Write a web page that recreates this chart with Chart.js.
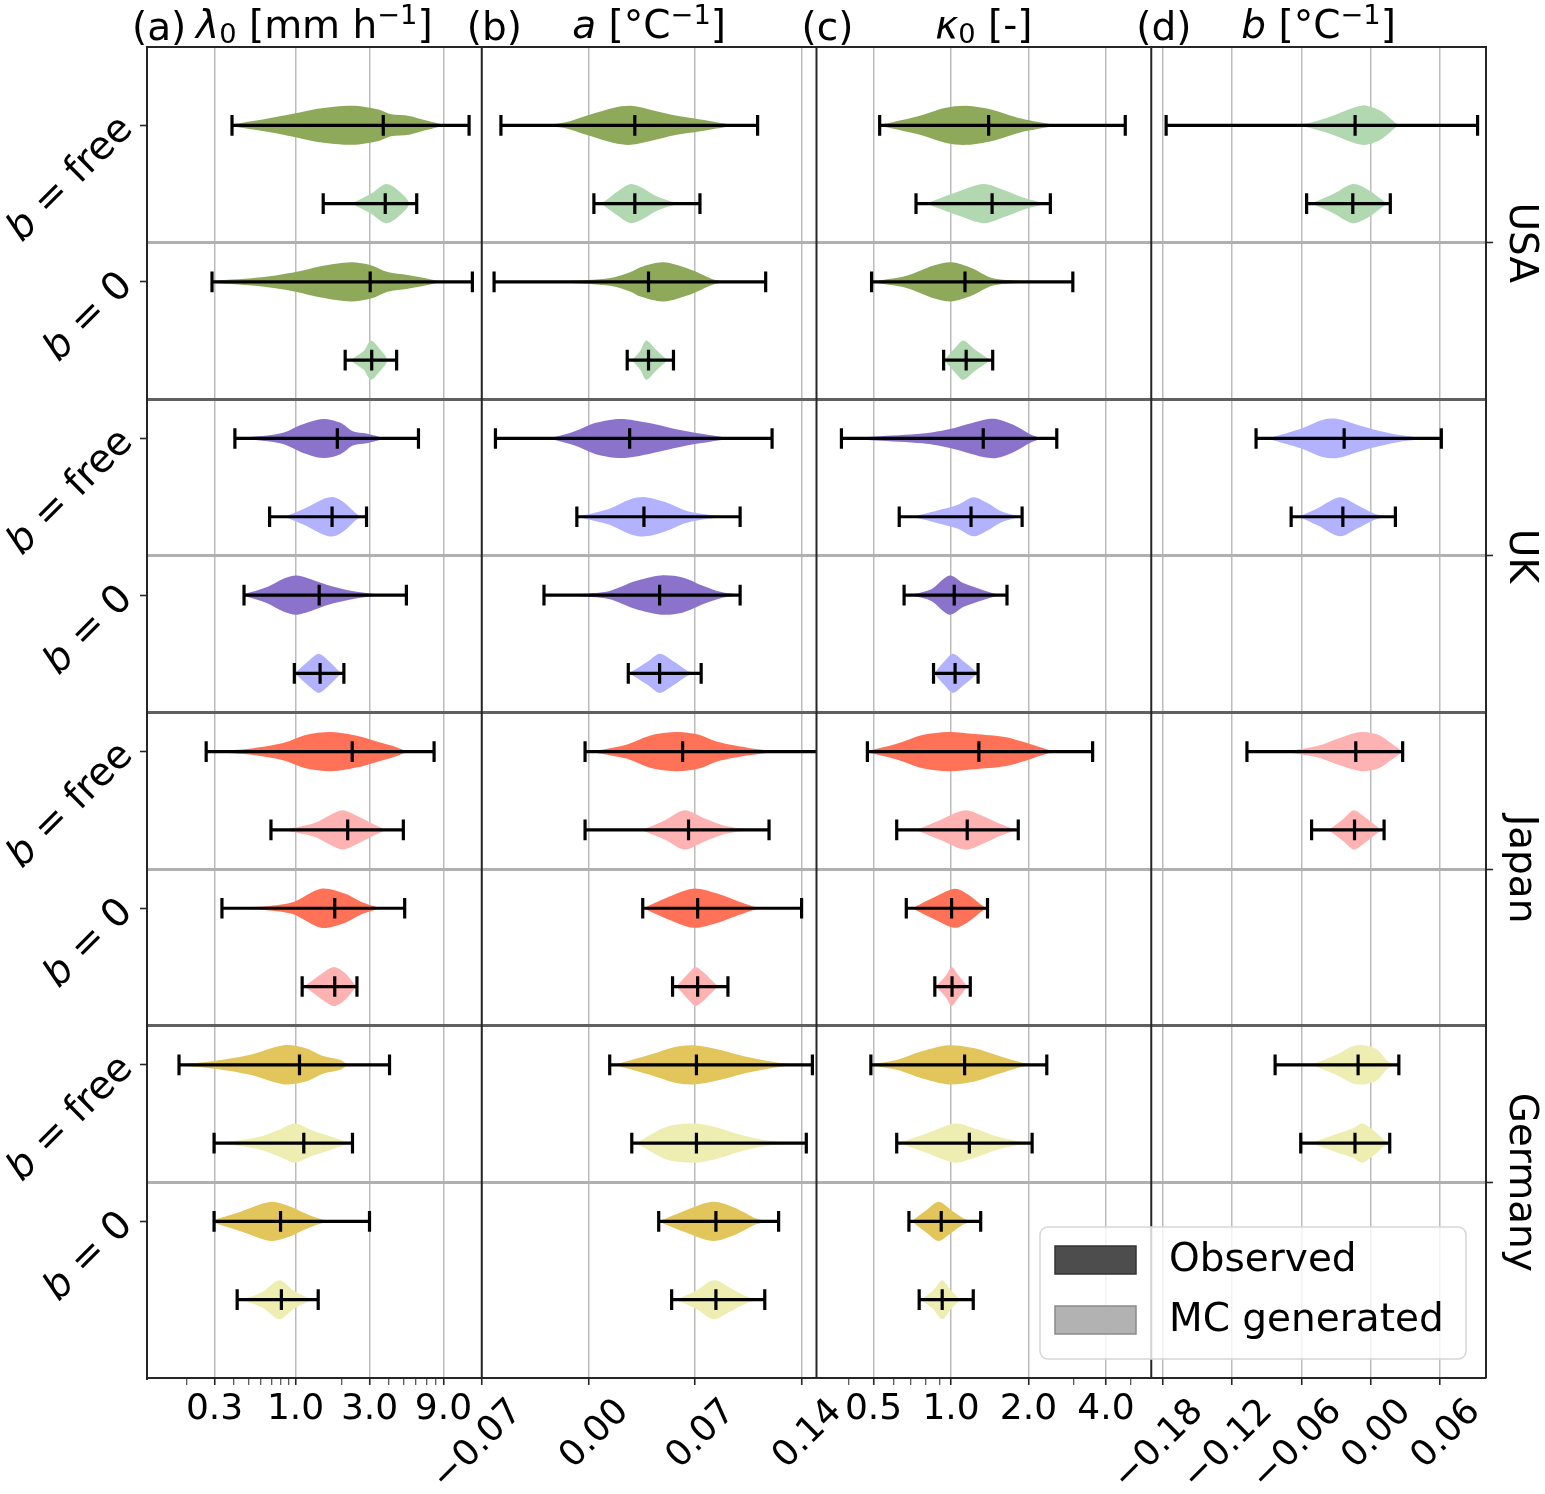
<!DOCTYPE html>
<html>
<head>
<meta charset="utf-8">
<script src="https://cdn.jsdelivr.net/npm/chart.js@4.4.1/dist/chart.umd.min.js"></script>
<style>
  html, body { margin: 0; padding: 0; background: #fff; }
  #wrap { width: 1545px; height: 1494px; }
</style>
</head>
<body>
<div id="wrap"><canvas id="c" width="1545" height="1494"></canvas></div>
<script>
// rows, top to bottom: country x (b = free, b = 0) x (observed, MC generated)
const countries = ['USA', 'UK', 'Japan', 'Germany'];
const modelLabels = ['b = free', 'b = 0'];
const legendLabels = ['Observed', 'MC generated'];

const obsColors = ['#8fa95a', '#8b73cc', '#ff7257', '#e2c55b'];
const mcColors = ['#b2d8b2', '#b2b2ff', '#ffb2b2', '#eeeeb2'];

// (a) lambda0 [mm/h], log axis
const lambdaTicks = [0.3, 1, 3, 9];
const lambdaTickLabels = ['0.3', '1.0', '3.0', '9.0'];
const lambdaMinorTicks = [0.2, 0.4, 0.5, 0.6, 0.7, 0.8, 0.9, 2, 4, 5, 6, 7, 8];
const lambdaMin = [0.389, 1.508, 0.289, 2.09, 0.406, 0.680, 0.465, 0.982, 0.265, 0.694, 0.335, 1.103, 0.177, 0.298, 0.298, 0.420];
const lambdaMed = [3.68, 3.79, 3.03, 3.10, 1.86, 1.72, 1.42, 1.44, 2.32, 2.17, 1.79, 1.79, 1.06, 1.13, 0.80, 0.81];
const lambdaMax = [13.17, 6.05, 13.83, 4.49, 6.21, 2.87, 5.19, 2.05, 7.83, 4.96, 5.06, 2.49, 4.04, 2.33, 3.00, 1.40];
// violin outlines: [value, relative half width]
const lambdaViolin = [
  [[0.389,0.05],[0.627,0.31],[1.0,0.61],[1.387,0.85],[2.334,1.0],[3.386,0.82],[4.127,0.56],[5.418,0.48],[6.771,0.27],[8.268,0.1],[9.12,0]],
  [[2.3,0],[3.064,0.5],[3.831,1.0],[4.56,0.7],[5.4,0]],
  [[0.289,0.05],[0.627,0.25],[1.0,0.5],[1.457,0.8],[2.276,1.0],[3.064,0.85],[3.929,0.5],[5.29,0.35],[6.771,0.2],[8.268,0.05],[9.5,0]],
  [[2.25,0],[2.774,0.5],[3.064,1.0],[3.467,0.6],[3.9,0]],
  [[0.406,0.02],[0.609,0.12],[0.841,0.3],[1.089,0.7],[1.503,1.0],[1.947,0.8],[2.362,0.35],[2.867,0.25],[3.594,0]],
  [[0.85,0],[1.162,0.45],[1.503,0.9],[1.768,1.0],[2.076,0.7],[2.519,0.1],[2.8,0]],
  [[0.465,0.05],[0.651,0.4],[0.841,0.85],[1.021,1.0],[1.323,0.75],[1.711,0.45],[2.362,0.2],[3.263,0.05],[3.708,0]],
  [[1.0,0.05],[1.239,0.7],[1.41,1.0],[1.605,0.7],[1.947,0.05],[2.0,0]],
  [[0.265,0.02],[0.502,0.15],[0.841,0.45],[1.162,0.85],[1.711,1.0],[2.519,0.8],[3.263,0.55],[4.221,0.3],[5.12,0.05],[5.6,0]],
  [[0.897,0.05],[1.323,0.35],[1.711,0.8],[2.009,1.0],[2.519,0.7],[3.263,0.25],[3.708,0.05],[3.9,0]],
  [[0.414,0.03],[0.651,0.1],[0.958,0.3],[1.457,1.0],[2.076,0.75],[2.689,0.3],[3.366,0.05],[3.6,0]],
  [[1.14,0],[1.503,0.7],[1.768,1.0],[2.076,0.7],[2.441,0.05],[2.5,0]],
  [[0.177,0.02],[0.2997,0.2],[0.502,0.5],[0.841,1.0],[1.162,0.85],[1.503,0.45],[1.947,0.25],[2.145,0.05],[2.3,0]],
  [[0.341,0.03],[0.572,0.3],[0.789,0.7],[0.99,1.0],[1.28,0.65],[1.605,0.4],[2.076,0.1],[2.3,0]],
  [[0.304,0.1],[0.441,0.5],[0.694,1.0],[0.897,0.8],[1.162,0.4],[1.503,0.08],[1.824,0]],
  [[0.471,0.05],[0.609,0.4],[0.789,1.0],[0.958,0.5],[1.201,0.1],[1.323,0]]
];

// (b) a [1/degC]
const aTicks = [-0.07, 0, 0.07, 0.14];
const aTickLabels = ['\u22120.07', '0.00', '0.07', '0.14'];
const aMin = [-0.0574, 0.0037, -0.0619, 0.0256, -0.0610, -0.0075, -0.0291, 0.0263, -0.0021, -0.0021, 0.0358, 0.0554, 0.0141, 0.0286, 0.0463, 0.0548];
const aMed = [0.0306, 0.0306, 0.0396, 0.0396, 0.0272, 0.0366, 0.0469, 0.0469, 0.0620, 0.0659, 0.0719, 0.0719, 0.0711, 0.0711, 0.0839, 0.0839];
const aMax = [0.1113, 0.0734, 0.1166, 0.0560, 0.1208, 0.0998, 0.0998, 0.0742, 0.1600, 0.1188, 0.1402, 0.0918, 0.1473, 0.1433, 0.1251, 0.1160];
const aViolin = [
  [[-0.035,0],[-0.0269,0.03],[-0.0149,0.15],[-0.0007,0.5],[0.0168,0.9],[0.0278,1.0],[0.0409,0.8],[0.0573,0.5],[0.0737,0.3],[0.0947,0.03],[0.1,0]],
  [[0.005,0],[0.0102,0.1],[0.019,0.6],[0.0278,1.0],[0.0356,0.8],[0.0442,0.4],[0.0573,0.05],[0.062,0]],
  [[-0.025,0],[-0.016,0.03],[0.0146,0.2],[0.0278,0.5],[0.0343,0.75],[0.0495,1.0],[0.0684,0.6],[0.0836,0.1],[0.095,0.02],[0.1,0]],
  [[0.027,0],[0.0299,0.1],[0.0343,0.5],[0.0381,1.0],[0.0438,0.6],[0.0514,0.05],[0.054,0]],
  [[-0.035,0],[-0.0234,0.05],[-0.0093,0.35],[0.005,0.8],[0.0215,1.0],[0.0392,0.8],[0.0562,0.5],[0.0733,0.25],[0.0904,0.05],[0.0989,0]],
  [[-0.0064,0.02],[0.0135,0.4],[0.0278,0.9],[0.0377,1.0],[0.0505,0.75],[0.0648,0.3],[0.0818,0.08],[0.0989,0]],
  [[-0.0093,0.03],[0.0135,0.2],[0.0306,0.7],[0.0477,1.0],[0.0619,0.9],[0.0761,0.45],[0.0875,0.15],[0.0989,0]],
  [[0.0278,0.05],[0.0392,0.6],[0.0469,1.0],[0.0562,0.6],[0.0648,0.15],[0.0704,0]],
  [[-0.002,0],[0.005,0.05],[0.0249,0.35],[0.042,0.85],[0.0591,1.0],[0.0733,0.85],[0.0847,0.5],[0.1046,0.2],[0.1217,0.03],[0.13,0]],
  [[0.03,0],[0.0363,0.05],[0.0505,0.5],[0.0633,1.0],[0.0761,0.6],[0.0904,0.2],[0.1046,0.03],[0.11,0]],
  [[0.0377,0.05],[0.0534,0.6],[0.069,1.0],[0.0847,0.75],[0.0989,0.35],[0.1103,0.05],[0.115,0]],
  [[0.0591,0.1],[0.0662,0.7],[0.0705,1.0],[0.0761,0.7],[0.0847,0.05],[0.087,0]],
  [[0.0192,0.05],[0.042,0.55],[0.0562,0.9],[0.069,1.0],[0.0847,0.8],[0.1046,0.4],[0.1274,0.08],[0.1387,0]],
  [[0.0335,0.1],[0.052,0.85],[0.0705,1.0],[0.0847,0.8],[0.0989,0.45],[0.116,0.15],[0.1331,0.02],[0.138,0]],
  [[0.0477,0.05],[0.0619,0.5],[0.0818,1.0],[0.0961,0.7],[0.1103,0.15],[0.1188,0]],
  [[0.0591,0.05],[0.0705,0.45],[0.0824,1.0],[0.0933,0.6],[0.1046,0.15],[0.1131,0]]
];

// (c) kappa0 [-], log axis
const kappaTicks = [0.5, 1, 2, 4];
const kappaTickLabels = ['0.5', '1.0', '2.0', '4.0'];
const kappaMinorTicks = [0.4, 0.6, 0.7, 0.8, 0.9, 3, 5];
const kappaMin = [0.528, 0.731, 0.491, 0.936, 0.375, 0.629, 0.657, 0.855, 0.473, 0.615, 0.670, 0.865, 0.488, 0.615, 0.686, 0.752];
const kappaMed = [1.400, 1.444, 1.133, 1.145, 1.334, 1.196, 1.029, 1.037, 1.283, 1.156, 1.005, 1.009, 1.129, 1.178, 0.916, 0.924];
const kappaMax = [4.755, 2.432, 2.974, 1.452, 2.576, 1.889, 1.650, 1.274, 3.551, 1.825, 1.386, 1.188, 2.356, 2.066, 1.304, 1.220];
const kappaViolin = [
  [[0.528,0.02],[0.739,0.45],[0.956,0.9],[1.145,1.0],[1.444,0.8],[1.869,0.35],[2.548,0.03],[2.8,0]],
  [[0.78,0],[0.819,0.05],[1.06,0.6],[1.337,1.0],[1.602,0.7],[1.919,0.3],[2.297,0.03],[2.4,0]],
  [[0.491,0.02],[0.666,0.3],[0.862,0.85],[1.006,1.0],[1.206,0.7],[1.444,0.2],[1.869,0.05],[2.297,0]],
  [[0.945,0],[0.956,0.1],[1.049,0.7],[1.116,1.0],[1.224,0.6],[1.407,0.05],[1.44,0]],
  [[0.375,0.02],[0.507,0.1],[0.775,0.25],[1.0,0.5],[1.334,0.95],[1.498,1.0],[1.748,0.7],[2.042,0.2],[2.205,0]],
  [[0.69,0],[0.718,0.03],[0.872,0.3],[1.057,0.6],[1.224,1.0],[1.386,0.7],[1.557,0.3],[1.818,0.03],[1.85,0]],
  [[0.69,0],[0.718,0.05],[0.838,0.3],[0.986,1.0],[1.121,0.6],[1.334,0.25],[1.498,0.05],[1.56,0]],
  [[0.865,0],[0.872,0.1],[0.941,0.6],[1.017,1.0],[1.121,0.6],[1.259,0.05],[1.27,0]],
  [[0.473,0.03],[0.615,0.4],[0.775,0.85],[0.979,1.0],[1.234,0.9],[1.618,0.75],[1.963,0.45],[2.383,0.1],[2.676,0]],
  [[0.72,0],[0.746,0.05],[0.906,0.5],[1.133,1.0],[1.334,0.7],[1.557,0.3],[1.748,0.05],[1.8,0]],
  [[0.7,0],[0.718,0.05],[0.872,0.6],[1.037,1.0],[1.165,0.7],[1.334,0.1],[1.386,0]],
  [[0.88,0],[0.888,0.1],[0.96,0.6],[1.005,1.0],[1.065,0.6],[1.142,0.1],[1.16,0]],
  [[0.488,0.03],[0.615,0.25],[0.775,0.7],[0.979,1.0],[1.234,0.85],[1.498,0.5],[1.889,0.1],[2.042,0]],
  [[0.639,0.05],[0.807,0.5],[1.037,1.0],[1.234,0.75],[1.498,0.35],[1.818,0.1],[2.042,0]],
  [[0.71,0],[0.718,0.1],[0.807,0.6],[0.895,1.0],[0.997,0.6],[1.12,0.15],[1.188,0]],
  [[0.765,0],[0.775,0.05],[0.855,0.5],[0.924,1.0],[0.997,0.5],[1.078,0.05],[1.1,0]]
];

// (d) b [1/degC], only for b = free
const bTicks = [-0.18, -0.12, -0.06, 0, 0.06];
const bTickLabels = ['\u22120.18', '\u22120.12', '\u22120.06', '0.00', '0.06'];
const bMin = [-0.1771, -0.0554, null, null, -0.0992, -0.0688, null, null, -0.1071, -0.0511, null, null, -0.0827, -0.0605, null, null];
const bMed = [-0.0134, -0.0154, null, null, -0.0229, -0.0240, null, null, -0.0128, -0.0139, null, null, -0.0108, -0.0135, null, null];
const bMax = [0.0927, 0.0171, null, null, 0.0613, 0.0215, null, null, 0.0278, 0.0117, null, null, 0.0245, 0.0166, null, null];
const bViolin = [
  [[-0.08,0],[-0.0669,0.03],[-0.055,0.1],[-0.0369,0.4],[-0.0079,1.0],[0.0082,0.75],[0.0231,0.05],[0.026,0]],
  [[-0.052,0],[-0.0494,0.05],[-0.0319,0.5],[-0.0154,1.0],[-0.0019,0.7],[0.0132,0.05],[0.015,0]],
  null, null,
  [[-0.095,0],[-0.0868,0.05],[-0.0605,0.5],[-0.0417,0.95],[-0.0285,1.0],[-0.0116,0.7],[0.0035,0.45],[0.0222,0.2],[0.041,0.05],[0.0486,0]],
  [[-0.064,0],[-0.0605,0.05],[-0.0455,0.45],[-0.0267,1.0],[-0.0116,0.6],[0.0035,0.15],[0.0147,0]],
  null, null,
  [[-0.08,0],[-0.0718,0.03],[-0.0455,0.3],[-0.0267,0.7],[-0.0079,1.0],[0.0072,0.85],[0.0185,0.4],[0.0267,0.05],[0.028,0]],
  [[-0.04,0],[-0.0342,0.1],[-0.0229,0.6],[-0.0146,1.0],[-0.006,0.7],[0.0072,0.1],[0.01,0]],
  null, null,
  [[-0.055,0],[-0.0493,0.05],[-0.0304,0.5],[-0.0154,0.95],[-0.006,1.0],[0.0053,0.8],[0.0147,0.2],[0.0204,0]],
  [[-0.055,0],[-0.0493,0.05],[-0.0304,0.45],[-0.0154,0.75],[-0.0071,1.0],[0.0035,0.6],[0.0128,0.1],[0.0166,0]],
  null, null
];

const FONT = "'DejaVu Sans', sans-serif";
const HALF = 0.25;  // widest violin half width, in rows
const CAP = 0.132;  // error bar cap half height, in rows

const panels = [
  {axis: 'xa', lo: lambdaMin, mid: lambdaMed, hi: lambdaMax, shapes: lambdaViolin,
   title: [['(a)', '']], label: [['\u03bb', 'i'], ['0', 'sub'], [' [mm h', ''], ['\u22121', 'sup'], [']', '']]},
  {axis: 'xb', lo: aMin, mid: aMed, hi: aMax, shapes: aViolin,
   title: [['(b)', '']], label: [['a', 'i'], [' [\u00b0C', ''], ['\u22121', 'sup'], [']', '']]},
  {axis: 'xc', lo: kappaMin, mid: kappaMed, hi: kappaMax, shapes: kappaViolin,
   title: [['(c)', '']], label: [['\u03ba', 'i'], ['0', 'sub'], [' [-]', '']]},
  {axis: 'xd', lo: bMin, mid: bMed, hi: bMax, shapes: bViolin,
   title: [['(d)', '']], label: [['b', 'i'], [' [\u00b0C', ''], ['\u22121', 'sup'], [']', '']]}
];

const datasets = [];
const GAP = {x: NaN, y: NaN};
panels.forEach((p, pi) => {
  p.shapes.forEach((knots, i) => {
    if (!knots) return;
    const row = i + 1;
    const country = Math.floor(i / 4);
    const observed = i % 2 === 0;
    const colour = observed && pi !== 3 ? obsColors[country] : mcColors[country];
    const upper = knots.map(k => ({x: k[0], y: row - HALF * k[1]}));
    const lower = knots.slice().reverse().map(k => ({x: k[0], y: row + HALF * k[1]}));
    if (knots[knots.length - 1][1] === 0) lower.shift();
    if (knots[0][1] === 0) lower.pop();
    datasets.push({
      data: upper.concat(lower), xAxisID: p.axis, yAxisID: 'y',
      fill: 'shape', backgroundColor: colour, borderColor: 'rgba(0,0,0,0)', borderWidth: 0,
      pointRadius: 0, tension: 0.3, order: 1
    });
    const lo = p.lo[i], md = p.mid[i], hi = p.hi[i];
    datasets.push({
      data: [
        {x: lo, y: row}, {x: hi, y: row}, GAP,
        {x: lo, y: row - CAP}, {x: lo, y: row + CAP}, GAP,
        {x: hi, y: row - CAP}, {x: hi, y: row + CAP}, GAP,
        {x: md, y: row - CAP}, {x: md, y: row + CAP}
      ],
      xAxisID: p.axis, yAxisID: 'y', borderColor: '#000', borderWidth: 3.2,
      borderCapStyle: 'butt', pointRadius: 0, fill: false, tension: 0, spanGaps: false, order: 0
    });
  });
});

function xAxis(type, min, max, major, labels, minor, rot) {
  const all = major.concat(minor);
  return {
    type, min, max, axis: 'x', position: 'bottom', stack: 'cols', stackWeight: 1,
    afterBuildTicks: s => { s.ticks = all.map(v => ({value: v})); },
    afterFit: s => { s.height = 116; },
    ticks: {
      autoSkip: false, minRotation: rot, maxRotation: rot,
      labelOffset: rot ? 35 : 0, padding: rot ? 6 : 3,
      color: '#000', font: {family: FONT, size: 36},
      callback: v => { const k = major.indexOf(v); return k >= 0 ? labels[k] : ''; }
    },
    grid: {
      color: c => major.includes(c.tick.value) ? '#bcbcbc' : 'rgba(0,0,0,0)',
      lineWidth: 1.5, tickLength: 7, tickColor: '#262626',
      tickWidth: c => major.includes(c.tick.value) ? 1.6 : 1
    },
    border: {display: true, color: '#262626', width: 2}
  };
}

const rowTicks = [1, 2.5, 3, 4.5, 5, 6.5, 7, 8.5, 9, 10.5, 11, 12.5, 13, 14.5, 15];
const countryTicks = [2.5, 6.5, 10.5, 14.5];

function drawRuns(ctx, runs, size, align) {
  let w = 0;
  const parts = runs.map(([t, k]) => {
    const small = k === 'sub' || k === 'sup';
    const f = (k === 'i' ? 'italic ' : '') + (small ? size * 0.7 : size) + 'px ' + FONT;
    ctx.font = f;
    const m = ctx.measureText(t).width;
    w += m;
    return {t, f, m, dy: k === 'sub' ? size * 0.14 : k === 'sup' ? -size * 0.36 : 0};
  });
  let x = align === 'right' ? -w : align === 'center' ? -w / 2 : 0;
  ctx.textAlign = 'left';
  parts.forEach(p => { ctx.font = p.f; ctx.fillText(p.t, x, p.dy); x += p.m; });
}

const decor = {
  id: 'decor',
  beforeDatasetDraw(chart, args) {
    const xs = args.meta.xScale, a = chart.chartArea, ctx = chart.ctx;
    ctx.save();
    ctx.beginPath();
    ctx.rect(xs.left, a.top, xs.right - xs.left, a.bottom - a.top);
    ctx.clip();
  },
  afterDatasetDraw(chart) { chart.ctx.restore(); },
  afterDraw(chart) {
    const ctx = chart.ctx, a = chart.chartArea, ys = chart.scales.y;
    ctx.save();
    // frame and panel separators
    ctx.strokeStyle = '#262626';
    ctx.lineWidth = 2;
    ctx.beginPath();
    ctx.moveTo(a.left, a.top); ctx.lineTo(a.right, a.top); ctx.lineTo(a.right, a.bottom);
    ctx.stroke();
    ['xb', 'xc', 'xd'].forEach(id => {
      const x = chart.scales[id].left;
      ctx.beginPath(); ctx.moveTo(x, a.top); ctx.lineTo(x, a.bottom); ctx.stroke();
    });
    ctx.fillStyle = '#000';
    // panel titles
    panels.forEach(p => {
      const s = chart.scales[p.axis];
      ctx.save();
      ctx.textBaseline = 'alphabetic';
      ctx.translate(s.left - 15, a.top - 7);
      drawRuns(ctx, p.title, 39, 'left');
      ctx.restore();
      ctx.save();
      ctx.translate((s.left + s.right) / 2, a.top - 9);
      drawRuns(ctx, p.label, 39, 'center');
      ctx.restore();
    });
    // model labels on the left, rotated 45 degrees
    for (let r = 1; r <= 15; r += 2) {
      const name = modelLabels[((r - 1) / 2) % 2];
      ctx.save();
      ctx.translate(a.left - 20, ys.getPixelForValue(r) - 2);
      ctx.rotate(-Math.PI / 4);
      ctx.textBaseline = 'middle';
      drawRuns(ctx, [['b', 'i'], [name.slice(1), '']], 39, 'right');
      ctx.restore();
    }
    // country labels on the right
    countries.forEach((name, i) => {
      ctx.save();
      ctx.translate(a.right + 34, ys.getPixelForValue(countryTicks[i]));
      ctx.rotate(Math.PI / 2);
      ctx.textAlign = 'center';
      ctx.textBaseline = 'middle';
      ctx.font = '39px ' + FONT;
      ctx.fillText(name, 0, 0);
      ctx.restore();
    });
    // legend
    const lw = 426, lh = 132;
    const lx = a.right - 20 - lw, ly = a.bottom - 19 - lh;
    ctx.beginPath();
    ctx.roundRect(lx, ly, lw, lh, 8);
    ctx.fillStyle = 'rgba(255,255,255,0.8)';
    ctx.fill();
    ctx.strokeStyle = '#d6d6d6';
    ctx.lineWidth = 1.5;
    ctx.stroke();
    const swatch = [['#4d4d4d', '#333333'], ['#b2b2b2', '#8a8a8a']];
    legendLabels.forEach((t, i) => {
      const sy = ly + 19 + i * 60;
      ctx.fillStyle = swatch[i][0];
      ctx.fillRect(lx + 15, sy, 81, 28);
      ctx.strokeStyle = swatch[i][1];
      ctx.lineWidth = 1.5;
      ctx.strokeRect(lx + 15, sy, 81, 28);
      ctx.fillStyle = '#000';
      ctx.font = '39px ' + FONT;
      ctx.textAlign = 'left';
      ctx.textBaseline = 'middle';
      ctx.fillText(t, lx + 129, sy + 15);
    });
    ctx.restore();
  }
};

new Chart(document.getElementById('c'), {
  type: 'line',
  data: {datasets},
  options: {
    responsive: false,
    animation: false,
    devicePixelRatio: 1,
    events: [],
    layout: {padding: {left: 147, top: 47, right: 0, bottom: 0}},
    plugins: {legend: {display: false}, tooltip: {enabled: false}},
    scales: {
      xa: xAxis('logarithmic', 0.11, 15.9, lambdaTicks, lambdaTickLabels, lambdaMinorTicks, 0),
      xb: xAxis('linear', -0.07, 0.15, aTicks, aTickLabels, [], 45),
      xc: xAxis('logarithmic', 0.3, 6, kappaTicks, kappaTickLabels, kappaMinorTicks, 0),
      xd: xAxis('linear', -0.19, 0.10, bTicks, bTickLabels, [], 45),
      y: {
        type: 'linear', axis: 'y', position: 'left', min: 0, max: 17, reverse: true,
        afterBuildTicks: s => { s.ticks = rowTicks.map(v => ({value: v})); },
        afterFit: s => { s.width = 0; },
        ticks: {display: false},
        grid: {
          color: c => c.tick.value % 1 === 0 ? 'rgba(0,0,0,0)' : (c.tick.value % 4 === 0.5 ? '#606060' : '#b0b0b0'),
          lineWidth: 3, tickLength: 7, tickWidth: 1.6,
          tickColor: c => c.tick.value % 1 === 0 ? '#262626' : 'rgba(0,0,0,0)'
        },
        border: {display: true, color: '#262626', width: 2}
      },
      yr: {
        type: 'linear', axis: 'y', position: 'right', min: 0, max: 17, reverse: true,
        afterBuildTicks: s => { s.ticks = countryTicks.map(v => ({value: v})); },
        afterFit: s => { s.width = 59; },
        ticks: {display: false},
        grid: {drawOnChartArea: false, tickLength: 7, tickWidth: 1.6, tickColor: '#262626'},
        border: {display: false}
      }
    }
  },
  plugins: [decor]
});
</script>
</body>
</html>
